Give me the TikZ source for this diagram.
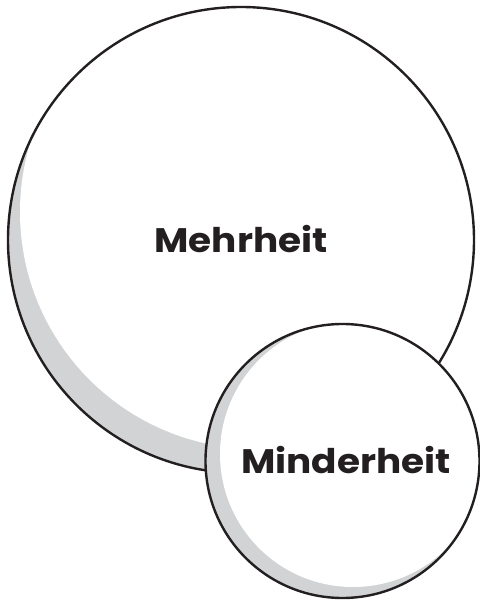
\documentclass[tikz,border=0pt]{standalone}
\usepackage{fontspec}
\setmainfont{Poppins}[FakeStretch=1.1]
\definecolor{shadowgray}{RGB}{209,211,212}
\definecolor{inkblack}{RGB}{35,31,32}
\tikzset{
  ringline/.style={draw=inkblack,line width=1.2pt},
  groupname/.style={font=\fontsize{17}{20}\selectfont\bfseries,text=inkblack,inner sep=0pt,anchor=base}
}
\begin{document}
\begin{tikzpicture}[x=0.5pt,y=0.5pt]
\useasboundingbox (0,0) rectangle (479,600);

% big circle with its shadow
\fill[shadowgray] (241,360) circle (233);
\begin{scope}
\clip (241,360) circle (233);
\fill[white] (257,388) circle (237);
\end{scope}
\draw[ringline] (241,360) circle (233);

% small circle with its shadow
\fill[shadowgray] (342.5,139) circle (137);
\begin{scope}
\clip (342.5,139) circle (137);
\fill[white] (353,146) circle (133);
\end{scope}
\draw[ringline] (342.5,139) circle (137);

\node[groupname] (major) at (241,347) {Mehrheit};
\node[groupname] (minor) at (346,126) {Minderheit};

\end{tikzpicture}
\end{document}
